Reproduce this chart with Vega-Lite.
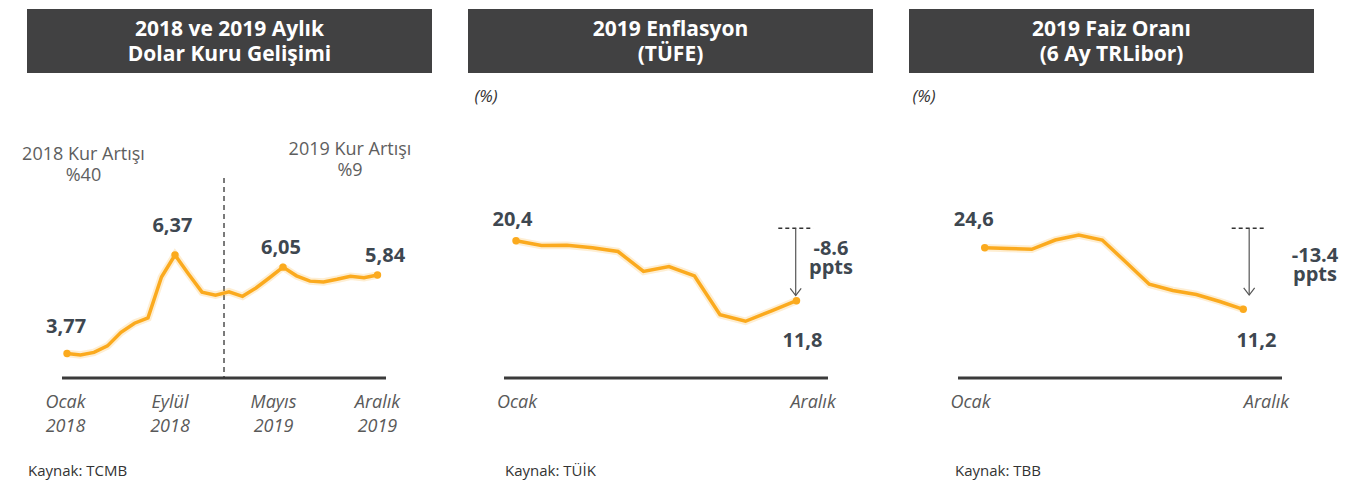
{
  "$schema": "https://vega.github.io/schema/vega-lite/v6.json",
  "background": "white",
  "padding": {"left": 22, "top": 9, "right": 5, "bottom": 0},
  "spacing": 36,
  "config": {
    "view": {"stroke": null},
    "font": "Open Sans",
    "axis": {"grid": false}
  },
  "datasets": {
    "usd": [
      {"ay": "2018-01", "m": 0, "v": 3.77}, {"ay": "2018-02", "m": 1, "v": 3.73}, {"ay": "2018-03", "m": 2, "v": 3.80},
      {"ay": "2018-04", "m": 3, "v": 3.97}, {"ay": "2018-05", "m": 4, "v": 4.33}, {"ay": "2018-06", "m": 5, "v": 4.57},
      {"ay": "2018-07", "m": 6, "v": 4.71}, {"ay": "2018-08", "m": 7, "v": 5.79}, {"ay": "2018-09", "m": 8, "v": 6.37},
      {"ay": "2018-10", "m": 9, "v": 5.87}, {"ay": "2018-11", "m": 10, "v": 5.39}, {"ay": "2018-12", "m": 11, "v": 5.31},
      {"ay": "2019-01", "m": 12, "v": 5.40}, {"ay": "2019-02", "m": 13, "v": 5.28}, {"ay": "2019-03", "m": 14, "v": 5.50},
      {"ay": "2019-04", "m": 15, "v": 5.77}, {"ay": "2019-05", "m": 16, "v": 6.05}, {"ay": "2019-06", "m": 17, "v": 5.82},
      {"ay": "2019-07", "m": 18, "v": 5.68}, {"ay": "2019-08", "m": 19, "v": 5.66}, {"ay": "2019-09", "m": 20, "v": 5.73},
      {"ay": "2019-10", "m": 21, "v": 5.81}, {"ay": "2019-11", "m": 22, "v": 5.77}, {"ay": "2019-12", "m": 23, "v": 5.84}
    ],
    "tufe": [
      {"ay": "2019-01", "m": 0, "v": 20.4}, {"ay": "2019-02", "m": 1, "v": 19.7}, {"ay": "2019-03", "m": 2, "v": 19.75},
      {"ay": "2019-04", "m": 3, "v": 19.4}, {"ay": "2019-05", "m": 4, "v": 18.85}, {"ay": "2019-06", "m": 5, "v": 16.0},
      {"ay": "2019-07", "m": 6, "v": 16.7}, {"ay": "2019-08", "m": 7, "v": 15.35}, {"ay": "2019-09", "m": 8, "v": 9.8},
      {"ay": "2019-10", "m": 9, "v": 8.85}, {"ay": "2019-11", "m": 10, "v": 10.3}, {"ay": "2019-12", "m": 11, "v": 11.8}
    ],
    "libor": [
      {"ay": "2019-01", "m": 0, "v": 24.6}, {"ay": "2019-02", "m": 1, "v": 24.43}, {"ay": "2019-03", "m": 2, "v": 24.25},
      {"ay": "2019-04", "m": 3, "v": 26.27}, {"ay": "2019-05", "m": 4, "v": 27.36}, {"ay": "2019-06", "m": 5, "v": 26.27},
      {"ay": "2019-07", "m": 6, "v": 21.49}, {"ay": "2019-08", "m": 7, "v": 16.64}, {"ay": "2019-09", "m": 8, "v": 15.29},
      {"ay": "2019-10", "m": 9, "v": 14.42}, {"ay": "2019-11", "m": 10, "v": 12.9}, {"ay": "2019-12", "m": 11, "v": 11.2}
    ],
    "not1": [
      {"m": -0.07, "v": 4.311, "t": "3,77", "k": "deger"},
      {"m": 7.81, "v": 6.985, "t": "6,37", "k": "deger"},
      {"m": 15.85, "v": 6.397, "t": "6,05", "k": "deger"},
      {"m": 23.56, "v": 6.193, "t": "5,84", "k": "deger"},
      {"m": 1.22, "v": 8.879, "t": "2018 Kur Artışı", "k": "not"},
      {"m": 1.22, "v": 8.324, "t": "%40", "k": "not"},
      {"m": 20.96, "v": 8.997, "t": "2019 Kur Artışı", "k": "not"},
      {"m": 20.96, "v": 8.443, "t": "%9", "k": "not"},
      {"m": -2.889, "v": 0.536, "t": "Kaynak: TCMB", "k": "kaynak"}
    ],
    "not2": [
      {"m": -1.176, "v": 40.21, "t": "(%)", "k": "birim"},
      {"m": -0.137, "v": 22.507, "t": "20,4", "k": "deger"},
      {"m": 11.235, "v": 5.207, "t": "11,8", "k": "deger"},
      {"m": 12.353, "v": 18.42, "t": "-8.6", "k": "fark"},
      {"m": 12.353, "v": 15.627, "t": "ppts", "k": "fark"},
      {"m": -0.431, "v": -13.326, "t": "Kaynak: TÜİK", "k": "kaynak"}
    ],
    "not3": [
      {"m": -2.582, "v": 56.19, "t": "(%)", "k": "birim"},
      {"m": -0.464, "v": 29.386, "t": "24,6", "k": "deger"},
      {"m": 11.557, "v": 3.064, "t": "11,2", "k": "deger"},
      {"m": 14.05, "v": 21.555, "t": "-13.4", "k": "fark"},
      {"m": 14.05, "v": 17.313, "t": "ppts", "k": "fark"},
      {"m": -1.263, "v": -25.06, "t": "Kaynak: TBB", "k": "kaynak"}
    ],
    "cizgi1": [
      {"m": -0.37, "m2": 23.63, "v": 3.123, "k": "eksen"},
      {"m": 11.63, "v": 8.403, "v2": 3.123, "k": "ayrac"}
    ],
    "cizgi2": [
      {"m": -0.47, "m2": 12.235, "v": 0.721, "k": "eksen"},
      {"m": 10.286, "m2": 11.659, "v": 22.177, "k": "seviye"},
      {"m": 10.969, "v": 22.177, "v2": 12.545, "k": "ok"}
    ],
    "cizgi3": [
      {"m": -1.135, "m2": 12.646, "v": -3.745, "k": "eksen"},
      {"m": 10.506, "m2": 11.995, "v": 28.82, "k": "seviye"},
      {"m": 11.25, "v": 28.82, "v2": 14.31, "k": "ok"}
    ]
  },
  "hconcat": [
    {
      "spacing": 17,
      "bounds": "flush",
      "vconcat": [
        {
          "width": 405, "height": 64,
          "view": {"fill": "#414142", "stroke": null},
          "data": {"values": [{"baslik": "2018 ve 2019 Aylık\nDolar Kuru Gelişimi"}]},
          "mark": {"type": "text", "lineBreak": "\n", "lineHeight": 24.5, "font": "Open Sans", "fontSize": 21, "fontWeight": "bold", "color": "#ffffff", "align": "center", "baseline": "alphabetic", "dy": -5},
          "encoding": {"text": {"field": "baslik"}}
        },
        {
          "width": 405, "height": 288,
          "encoding": {
            "x": {"field": "m", "type": "quantitative", "scale": {"domain": [-2.963, 27.037], "nice": false, "zero": false},
              "axis": {"values": [-0.15, 7.59, 15.26, 22.96], "labelExpr": "datum.value < 3 ? ['Ocak', '2018'] : datum.value < 11 ? ['Eylül', '2018'] : datum.value < 19 ? ['Mayıs', '2019'] : ['Aralık', '2019']", "domain": false, "ticks": false, "tickSize": 0, "grid": false, "title": null, "labelPadding": 15.5, "labelFont": "Open Sans", "labelFontStyle": "italic", "labelFontSize": 18, "labelColor": "#595959", "labelLineHeight": 24, "labelOverlap": false, "labelFlush": false, "labelBound": false}},
            "y": {"field": "v", "type": "quantitative", "scale": {"domain": [3.123, 10.726], "nice": false, "zero": false}, "axis": null}
          },
          "layer": [
            {"data": {"name": "cizgi1"}, "transform": [{"filter": "datum.k == 'eksen'"}], "mark": {"type": "rule", "strokeWidth": 3, "color": "#3b3b3b"}, "encoding": {"x2": {"field": "m2"}}},
            {"data": {"name": "cizgi1"}, "transform": [{"filter": "datum.k == 'ayrac'"}], "mark": {"type": "rule", "strokeWidth": 1.3, "strokeDash": [5, 4], "color": "#333333"}, "encoding": {"y2": {"field": "v2"}}},
            {"data": {"name": "usd"}, "mark": {"type": "line", "color": "#FBAA1E", "strokeWidth": 7.5, "opacity": 0.2}},
            {"data": {"name": "usd"}, "mark": {"type": "line", "color": "#FBAA1E", "strokeWidth": 3.5}},
            {"data": {"name": "usd"}, "transform": [{"filter": "indexof([0, 8, 16, 23], datum.m) >= 0"}], "mark": {"type": "circle", "size": 55, "color": "#FBAA1E", "opacity": 1}},
            {"data": {"name": "not1"}, "transform": [{"filter": "datum.k == 'deger'"}], "mark": {"type": "text", "font": "Open Sans", "fontSize": 20, "fontWeight": "bold", "color": "#3e4750", "align": "center", "baseline": "alphabetic"}, "encoding": {"text": {"field": "t"}}},
            {"data": {"name": "not1"}, "transform": [{"filter": "datum.k == 'not'"}], "mark": {"type": "text", "font": "Open Sans", "fontSize": 18, "color": "#5e5e5e", "align": "center", "baseline": "alphabetic"}, "encoding": {"text": {"field": "t"}}},
            {"data": {"name": "not1"}, "transform": [{"filter": "datum.k == 'kaynak'"}], "mark": {"type": "text", "font": "Open Sans", "fontSize": 15, "color": "#333333", "align": "left", "baseline": "alphabetic"}, "encoding": {"text": {"field": "t"}}}
          ]
        }
      ]
    },
    {
      "spacing": 17,
      "bounds": "flush",
      "vconcat": [
        {
          "width": 405, "height": 64,
          "view": {"fill": "#414142", "stroke": null},
          "data": {"values": [{"baslik": "2019 Enflasyon\n(TÜFE)"}]},
          "mark": {"type": "text", "lineBreak": "\n", "lineHeight": 24.5, "font": "Open Sans", "fontSize": 21, "fontWeight": "bold", "color": "#ffffff", "align": "center", "baseline": "alphabetic", "dy": -5},
          "encoding": {"text": {"field": "baslik"}}
        },
        {
          "width": 405, "height": 288,
          "encoding": {
            "x": {"field": "m", "type": "quantitative", "scale": {"domain": [-1.882, 14.0], "nice": false, "zero": false},
              "axis": {"values": [0.02, 11.63], "labelExpr": "datum.value < 5 ? 'Ocak' : 'Aralık'", "domain": false, "ticks": false, "tickSize": 0, "grid": false, "title": null, "labelPadding": 15.5, "labelFont": "Open Sans", "labelFontStyle": "italic", "labelFontSize": 18, "labelColor": "#595959", "labelOverlap": false, "labelFlush": false, "labelBound": false}},
            "y": {"field": "v", "type": "quantitative", "scale": {"domain": [0.721, 42.0], "nice": false, "zero": false}, "axis": null}
          },
          "layer": [
            {"data": {"name": "cizgi2"}, "transform": [{"filter": "datum.k == 'eksen'"}], "mark": {"type": "rule", "strokeWidth": 3, "color": "#3b3b3b"}, "encoding": {"x2": {"field": "m2"}}},
            {"data": {"name": "cizgi2"}, "transform": [{"filter": "datum.k == 'seviye'"}], "mark": {"type": "rule", "strokeWidth": 1.4, "strokeDash": [4, 3], "color": "#333333"}, "encoding": {"x2": {"field": "m2"}}},
            {"data": {"name": "cizgi2"}, "transform": [{"filter": "datum.k == 'ok'"}], "mark": {"type": "rule", "strokeWidth": 1.2, "color": "#555555"}, "encoding": {"y2": {"field": "v2"}}},
            {"data": {"name": "cizgi2"}, "transform": [{"filter": "datum.k == 'ok'"}], "mark": {"type": "point", "shape": "M-1,-1.3L0,0L1,-1.3", "filled": false, "size": 120, "strokeWidth": 1.2, "color": "#555555", "opacity": 1}, "encoding": {"y": {"field": "v2", "type": "quantitative", "axis": null}}},
            {"data": {"name": "tufe"}, "mark": {"type": "line", "color": "#FBAA1E", "strokeWidth": 7.5, "opacity": 0.2}},
            {"data": {"name": "tufe"}, "mark": {"type": "line", "color": "#FBAA1E", "strokeWidth": 3.5}},
            {"data": {"name": "tufe"}, "transform": [{"filter": "datum.m == 0 || datum.m == 11"}], "mark": {"type": "circle", "size": 55, "color": "#FBAA1E", "opacity": 1}},
            {"data": {"name": "not2"}, "transform": [{"filter": "datum.k == 'deger'"}], "mark": {"type": "text", "font": "Open Sans", "fontSize": 20, "fontWeight": "bold", "color": "#3e4750", "align": "center", "baseline": "alphabetic"}, "encoding": {"text": {"field": "t"}}},
            {"data": {"name": "not2"}, "transform": [{"filter": "datum.k == 'fark'"}], "mark": {"type": "text", "font": "Open Sans", "fontSize": 20, "fontWeight": "bold", "color": "#3e4750", "align": "center", "baseline": "alphabetic"}, "encoding": {"text": {"field": "t"}}},
            {"data": {"name": "not2"}, "transform": [{"filter": "datum.k == 'birim'"}], "mark": {"type": "text", "font": "Open Sans", "fontSize": 17, "fontStyle": "italic", "color": "#333333", "align": "center", "baseline": "alphabetic"}, "encoding": {"text": {"field": "t"}}},
            {"data": {"name": "not2"}, "transform": [{"filter": "datum.k == 'kaynak'"}], "mark": {"type": "text", "font": "Open Sans", "fontSize": 15, "color": "#333333", "align": "left", "baseline": "alphabetic"}, "encoding": {"text": {"field": "t"}}}
          ]
        }
      ]
    },
    {
      "spacing": 17,
      "bounds": "flush",
      "vconcat": [
        {
          "width": 405, "height": 64,
          "view": {"fill": "#414142", "stroke": null},
          "data": {"values": [{"baslik": "2019 Faiz Oranı\n(6 Ay TRLibor)"}]},
          "mark": {"type": "text", "lineBreak": "\n", "lineHeight": 24.5, "font": "Open Sans", "fontSize": 21, "fontWeight": "bold", "color": "#ffffff", "align": "center", "baseline": "alphabetic", "dy": -5},
          "encoding": {"text": {"field": "baslik"}}
        },
        {
          "width": 405, "height": 288,
          "encoding": {
            "x": {"field": "m", "type": "quantitative", "scale": {"domain": [-3.22, 14.007], "nice": false, "zero": false},
              "axis": {"values": [-0.625, 11.965], "labelExpr": "datum.value < 5 ? 'Ocak' : 'Aralık'", "domain": false, "ticks": false, "tickSize": 0, "grid": false, "title": null, "labelPadding": 15.5, "labelFont": "Open Sans", "labelFontStyle": "italic", "labelFontSize": 18, "labelColor": "#595959", "labelOverlap": false, "labelFlush": false, "labelBound": false}},
            "y": {"field": "v", "type": "quantitative", "scale": {"domain": [-3.745, 58.905], "nice": false, "zero": false}, "axis": null}
          },
          "layer": [
            {"data": {"name": "cizgi3"}, "transform": [{"filter": "datum.k == 'eksen'"}], "mark": {"type": "rule", "strokeWidth": 3, "color": "#3b3b3b"}, "encoding": {"x2": {"field": "m2"}}},
            {"data": {"name": "cizgi3"}, "transform": [{"filter": "datum.k == 'seviye'"}], "mark": {"type": "rule", "strokeWidth": 1.4, "strokeDash": [4, 3], "color": "#333333"}, "encoding": {"x2": {"field": "m2"}}},
            {"data": {"name": "cizgi3"}, "transform": [{"filter": "datum.k == 'ok'"}], "mark": {"type": "rule", "strokeWidth": 1.2, "color": "#555555"}, "encoding": {"y2": {"field": "v2"}}},
            {"data": {"name": "cizgi3"}, "transform": [{"filter": "datum.k == 'ok'"}], "mark": {"type": "point", "shape": "M-1,-1.3L0,0L1,-1.3", "filled": false, "size": 120, "strokeWidth": 1.2, "color": "#555555", "opacity": 1}, "encoding": {"y": {"field": "v2", "type": "quantitative", "axis": null}}},
            {"data": {"name": "libor"}, "mark": {"type": "line", "color": "#FBAA1E", "strokeWidth": 7.5, "opacity": 0.2}},
            {"data": {"name": "libor"}, "mark": {"type": "line", "color": "#FBAA1E", "strokeWidth": 3.5}},
            {"data": {"name": "libor"}, "transform": [{"filter": "datum.m == 0 || datum.m == 11"}], "mark": {"type": "circle", "size": 55, "color": "#FBAA1E", "opacity": 1}},
            {"data": {"name": "not3"}, "transform": [{"filter": "datum.k == 'deger'"}], "mark": {"type": "text", "font": "Open Sans", "fontSize": 20, "fontWeight": "bold", "color": "#3e4750", "align": "center", "baseline": "alphabetic"}, "encoding": {"text": {"field": "t"}}},
            {"data": {"name": "not3"}, "transform": [{"filter": "datum.k == 'fark'"}], "mark": {"type": "text", "font": "Open Sans", "fontSize": 20, "fontWeight": "bold", "color": "#3e4750", "align": "center", "baseline": "alphabetic"}, "encoding": {"text": {"field": "t"}}},
            {"data": {"name": "not3"}, "transform": [{"filter": "datum.k == 'birim'"}], "mark": {"type": "text", "font": "Open Sans", "fontSize": 17, "fontStyle": "italic", "color": "#333333", "align": "center", "baseline": "alphabetic"}, "encoding": {"text": {"field": "t"}}},
            {"data": {"name": "not3"}, "transform": [{"filter": "datum.k == 'kaynak'"}], "mark": {"type": "text", "font": "Open Sans", "fontSize": 15, "color": "#333333", "align": "left", "baseline": "alphabetic"}, "encoding": {"text": {"field": "t"}}}
          ]
        }
      ]
    }
  ]
}
